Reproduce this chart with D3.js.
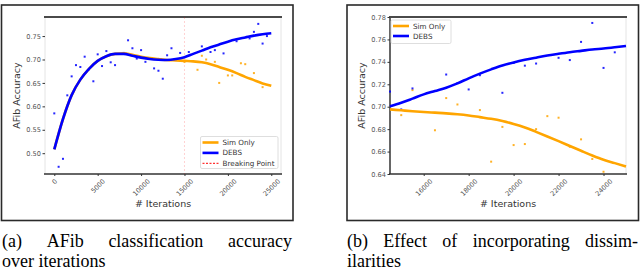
<!DOCTYPE html>
<html>
<head>
<meta charset="utf-8">
<script src="https://cdn.jsdelivr.net/npm/d3@7"></script>
<style>
  body { margin: 0; background: #fff; }
  svg { display: block; }
</style>
</head>
<body>
<div id="chart"></div>
<script>
// ---- panel (a): accuracy over iterations
var aCurveIter = [0, 1000, 2000, 3000, 4000, 5000, 6000, 7000, 8000, 9000, 10000, 11000, 12000,
                  13000, 14000, 15000, 16000, 17000, 18000, 19000, 20000, 21000, 22000, 23000, 24000, 25000];
var aDebsCurve = [0.508, 0.573, 0.624, 0.657, 0.680, 0.697, 0.707, 0.712, 0.712, 0.708, 0.704, 0.701, 0.6995,
                  0.699, 0.701, 0.705, 0.712, 0.719, 0.726, 0.732, 0.738, 0.743, 0.747, 0.751, 0.754, 0.756];
var aSimCurve  = [0.508, 0.573, 0.624, 0.657, 0.680, 0.697, 0.707, 0.712, 0.713, 0.710, 0.706, 0.703, 0.701,
                  0.699, 0.698, 0.697, 0.696, 0.694, 0.690, 0.684, 0.678, 0.671, 0.663, 0.656, 0.649, 0.644];

var aDebsPtsIter = [0, 500, 1000, 1500, 2000, 2500, 3000, 3500, 4000, 4500, 5000, 5500, 6000, 6500, 7000,
                    8000, 8500, 9000, 9500, 10000, 10500, 11500, 12000, 12500, 13000, 13500, 14500, 15500,
                    17000, 18000, 18500, 19500, 21000, 22500, 23000, 23500, 24000, 24500];
var aDebsPts = [0.585, 0.471, 0.488, 0.6235, 0.664, 0.688, 0.684, 0.706, 0.679, 0.6535, 0.711, 0.686, 0.718, 0.694, 0.688,
                0.714, 0.741, 0.724, 0.702, 0.720, 0.695, 0.681, 0.676, 0.659, 0.709, 0.724, 0.714, 0.716,
                0.728, 0.716, 0.720, 0.713, 0.739, 0.745, 0.759, 0.776, 0.734, 0.750];
var aSimPtsIter = [15000, 16500, 17000, 17500, 18500, 19000, 20000, 20500, 21500, 22000, 23000, 24000];
var aSimPts = [0.695, 0.678, 0.708, 0.700, 0.695, 0.650, 0.666, 0.666, 0.692, 0.690, 0.671, 0.641];

var aBreakIter = 15000;
var aYTicks = [0.50, 0.55, 0.60, 0.65, 0.70, 0.75];
var aXTicks = [0, 5000, 10000, 15000, 20000, 25000];

// ---- panel (b): effect of dissimilarities
var bCurveIter = [14500, 15000, 15500, 16000, 16500, 17000, 17500, 18000, 18500, 19000, 19500,
                  20000, 20500, 21000, 21500, 22000, 22500, 23000, 23500, 24000, 24500, 25000];
var bDebsCurve = [0.7003, 0.7035, 0.7072, 0.7110, 0.7140, 0.7170, 0.7208, 0.7253, 0.7295, 0.7333, 0.7368,
                  0.7395, 0.7418, 0.7437, 0.7457, 0.7472, 0.7486, 0.7498, 0.7510, 0.7519, 0.7530, 0.7542];
var bSimCurve  = [0.6976, 0.6968, 0.6960, 0.6953, 0.6947, 0.6941, 0.6933, 0.6922, 0.6907, 0.6892, 0.6872,
                  0.6846, 0.6815, 0.6776, 0.6735, 0.6693, 0.6650, 0.6607, 0.6565, 0.6527, 0.6497, 0.6466];

var bDebsPtsIter = [14500, 15000, 15500, 17000, 17500, 18000, 18500, 19500, 20000, 20500, 21000,
                    22000, 22500, 23000, 23500, 24000, 24500];
var bDebsPts = [0.7135, 0.6976, 0.7163, 0.7287, 0.7210, 0.7154, 0.7281, 0.7124, 0.7390, 0.7366, 0.7385,
                0.7436, 0.7416, 0.7578, 0.7747, 0.7346, 0.7485];
var bSimPtsIter = [15000, 15500, 16500, 17000, 17500, 18500, 19000, 19500, 20000, 20500, 21000,
                   21500, 22000, 22500, 23000, 23500, 24000];
var bSimPts = [0.6925, 0.7148, 0.6790, 0.7077, 0.7020, 0.6970, 0.6510, 0.6820, 0.6658, 0.6667, 0.6800,
               0.6916, 0.6902, 0.6643, 0.6709, 0.6534, 0.6420];

var bYTicks = [0.64, 0.66, 0.68, 0.70, 0.72, 0.74, 0.76, 0.78];
var bXTicks = [16000, 18000, 20000, 22000, 24000];

var seriesNames = ["Sim Only", "DEBS"];
var breakName = "Breaking Point";
var captionA = ["(a) AFib classification accuracy", "over iterations"];
var captionB = ["(b) Effect of incorporating dissim-", "ilarities"];

var ORANGE = "#ffa500";
var BLUE = "#0000ff";

////////////////////////////////////////////////////////////////////////////////

var svg = d3.select("#chart").append("svg")
    .attr("width", 640)
    .attr("height", 278);

function zip(xs, ys) {
    return xs.map(function(x, i) { return [x, ys[i]]; });
}

function drawPanel(p) {
    var g = svg.append("g");
    var x = d3.scaleLinear().domain(p.xDomain).range([p.left, p.right]);
    var y = d3.scaleLinear().domain(p.yDomain).range([p.bottom, p.top]);

    // outer frame
    g.append("rect")
        .attr("x", p.frame[0]).attr("y", p.frame[1])
        .attr("width", p.frame[2]).attr("height", p.frame[3])
        .attr("fill", "none").attr("stroke", "#2a2a2a").attr("stroke-width", 1.6);

    // spines
    g.append("line").attr("x1", p.right).attr("x2", p.right).attr("y1", p.top).attr("y2", p.bottom)
        .attr("stroke", "#e4e4e4").attr("stroke-width", 1);
    g.append("line").attr("x1", p.left).attr("x2", p.left).attr("y1", p.top).attr("y2", p.bottom)
        .attr("stroke", p.leftSpine).attr("stroke-width", p.leftSpine == "#e4e4e4" ? 1 : 1.5);
    g.append("line").attr("x1", p.left - 1).attr("x2", p.right + 1).attr("y1", p.top).attr("y2", p.top)
        .attr("stroke", "#4a4a4a").attr("stroke-width", 2);
    g.append("line").attr("x1", p.left - 1).attr("x2", p.right + 1).attr("y1", p.bottom).attr("y2", p.bottom)
        .attr("stroke", "#333").attr("stroke-width", 1.5);

    // y axis
    var yAxis = g.append("g")
        .attr("transform", "translate(" + p.left + ",0)")
        .call(d3.axisLeft(y).tickValues(p.yTicks).tickSize(2.5).tickPadding(1.5)
              .tickFormat(d3.format(".2f")));
    yAxis.select(".domain").remove();
    yAxis.selectAll("line").attr("stroke", "#333");
    yAxis.selectAll("text")
        .attr("font-family", "DejaVu Sans").attr("font-size", 6.6).attr("fill", "#555");

    // x axis, rotated labels centred on their ticks
    var xAxis = g.append("g")
        .attr("transform", "translate(0," + p.bottom + ")")
        .call(d3.axisBottom(x).tickValues(p.xTicks).tickSize(2).tickFormat(d3.format("d")));
    xAxis.select(".domain").remove();
    xAxis.selectAll("line").attr("stroke", "#333");
    xAxis.selectAll("text")
        .attr("font-family", "DejaVu Sans").attr("font-size", 6.6).attr("fill", "#555")
        .attr("text-anchor", "middle").attr("dy", null)
        .attr("dominant-baseline", "central")
        .attr("y", 0)
        .attr("transform", function() {
            var w = this.getComputedTextLength();
            var h = (w + 6.6) * 0.7071;
            return "translate(0," + (4 + h / 2) + ") rotate(-45)";
        });

    // axis titles
    g.append("text")
        .attr("transform", "translate(" + p.yTitleX + "," + ((p.top + p.bottom) / 2) + ") rotate(-90)")
        .attr("text-anchor", "middle")
        .attr("font-family", "DejaVu Sans").attr("font-size", 9.5).attr("fill", "#333")
        .text("AFib Accuracy");
    g.append("text")
        .attr("x", (p.left + p.right) / 2).attr("y", 206.5)
        .attr("text-anchor", "middle")
        .attr("font-family", "DejaVu Sans").attr("font-size", 9.5).attr("fill", "#333")
        .text("# Iterations");

    // breaking point
    if (p.breakIter != null) {
        g.append("line")
            .attr("x1", x(p.breakIter)).attr("x2", x(p.breakIter))
            .attr("y1", p.top).attr("y2", p.bottom)
            .attr("stroke", "#ff0000").attr("stroke-opacity", 0.18)
            .attr("stroke-dasharray", "2,2").attr("stroke-width", 1);
    }

    var line = d3.line()
        .x(function(d) { return x(d[0]); })
        .y(function(d) { return y(d[1]); })
        .curve(d3.curveMonotoneX);

    // scatter points
    g.append("g").selectAll("rect")
        .data(zip(p.simPtsIter, p.simPts))
        .enter().append("rect")
        .attr("x", function(d) { return x(d[0]) - 1; })
        .attr("y", function(d) { return y(d[1]) - 1; })
        .attr("width", 2).attr("height", 2)
        .attr("fill", ORANGE).attr("opacity", 0.85);
    g.append("g").selectAll("rect")
        .data(zip(p.debsPtsIter, p.debsPts))
        .enter().append("rect")
        .attr("x", function(d) { return x(d[0]) - 1; })
        .attr("y", function(d) { return y(d[1]) - 1; })
        .attr("width", 2).attr("height", 2)
        .attr("fill", BLUE).attr("opacity", 0.85);

    // curves
    g.append("path")
        .attr("d", line(zip(p.curveIter, p.simCurve)))
        .attr("fill", "none").attr("stroke", ORANGE).attr("stroke-width", 2.6);
    g.append("path")
        .attr("d", line(zip(p.curveIter, p.debsCurve)))
        .attr("fill", "none").attr("stroke", BLUE).attr("stroke-width", 2.6);

    // legend
    var L = p.legend;
    var lg = g.append("g");
    lg.append("rect")
        .attr("x", L.x).attr("y", L.y).attr("width", L.w).attr("height", L.h)
        .attr("rx", 1.5)
        .attr("fill", "#fff").attr("fill-opacity", 0.85)
        .attr("stroke", "#d6d6d6").attr("stroke-width", 0.8);
    var items = [
        { name: seriesNames[0], color: ORANGE, width: 2.6, dash: null },
        { name: seriesNames[1], color: BLUE, width: 2.6, dash: null }
    ];
    if (p.breakIter != null)
        items.push({ name: breakName, color: "#ff0000", width: 1, dash: "2,1.5" });
    items.forEach(function(it, i) {
        var yy = L.y + L.first + i * L.step;
        lg.append("line")
            .attr("x1", L.x + 2).attr("x2", L.x + 18)
            .attr("y1", yy).attr("y2", yy)
            .attr("stroke", it.color).attr("stroke-width", it.width)
            .attr("stroke-dasharray", it.dash);
        lg.append("text")
            .attr("x", L.x + 22).attr("y", yy)
            .attr("dominant-baseline", "central")
            .attr("font-family", "DejaVu Sans").attr("font-size", 7.2).attr("fill", "#333")
            .text(it.name);
    });
}

function drawCaption(lines, x0, width) {
    var first = svg.append("g");
    var words = lines[0].split(" ");
    var nodes = words.map(function(w) {
        return first.append("text")
            .attr("y", 246.5)
            .attr("font-family", "Liberation Serif").attr("font-size", 18).attr("fill", "#000")
            .text(w);
    });
    var widths = nodes.map(function(n) { return n.node().getComputedTextLength(); });
    var gap = (width - d3.sum(widths)) / (words.length - 1);
    var cx = x0;
    nodes.forEach(function(n, i) {
        n.attr("x", cx);
        cx += widths[i] + gap;
    });
    svg.append("text")
        .attr("x", x0).attr("y", 266.5)
        .attr("font-family", "Liberation Serif").attr("font-size", 18).attr("fill", "#000")
        .text(lines[1]);
}

drawPanel({
    frame: [1.5, 5, 291.5, 215.5],
    left: 45, right: 281, top: 17, bottom: 174,
    xDomain: [-1070, 26120], yDomain: [0.4556, 0.7907],
    xTicks: aXTicks, yTicks: aYTicks,
    leftSpine: "#e4e4e4",
    yTitleX: 20,
    breakIter: aBreakIter,
    curveIter: aCurveIter, debsCurve: aDebsCurve, simCurve: aSimCurve,
    debsPtsIter: aDebsPtsIter, debsPts: aDebsPts, simPtsIter: aSimPtsIter, simPts: aSimPts,
    legend: { x: 200.5, y: 136.5, w: 77.5, h: 32, first: 6, step: 10.4 }
});

drawPanel({
    frame: [347, 5, 291.5, 215.5],
    left: 390, right: 626, top: 17, bottom: 174,
    xDomain: [14500, 25000], yDomain: [0.64, 0.78],
    xTicks: bXTicks, yTicks: bYTicks,
    leftSpine: "#333",
    yTitleX: 365,
    breakIter: null,
    curveIter: bCurveIter, debsCurve: bDebsCurve, simCurve: bSimCurve,
    debsPtsIter: bDebsPtsIter, debsPts: bDebsPts, simPtsIter: bSimPtsIter, simPts: bSimPts,
    legend: { x: 391, y: 20, w: 60, h: 23.5, first: 6, step: 10 }
});

drawCaption(captionA, 2, 290);
drawCaption(captionB, 347, 291);
</script>
</body>
</html>
